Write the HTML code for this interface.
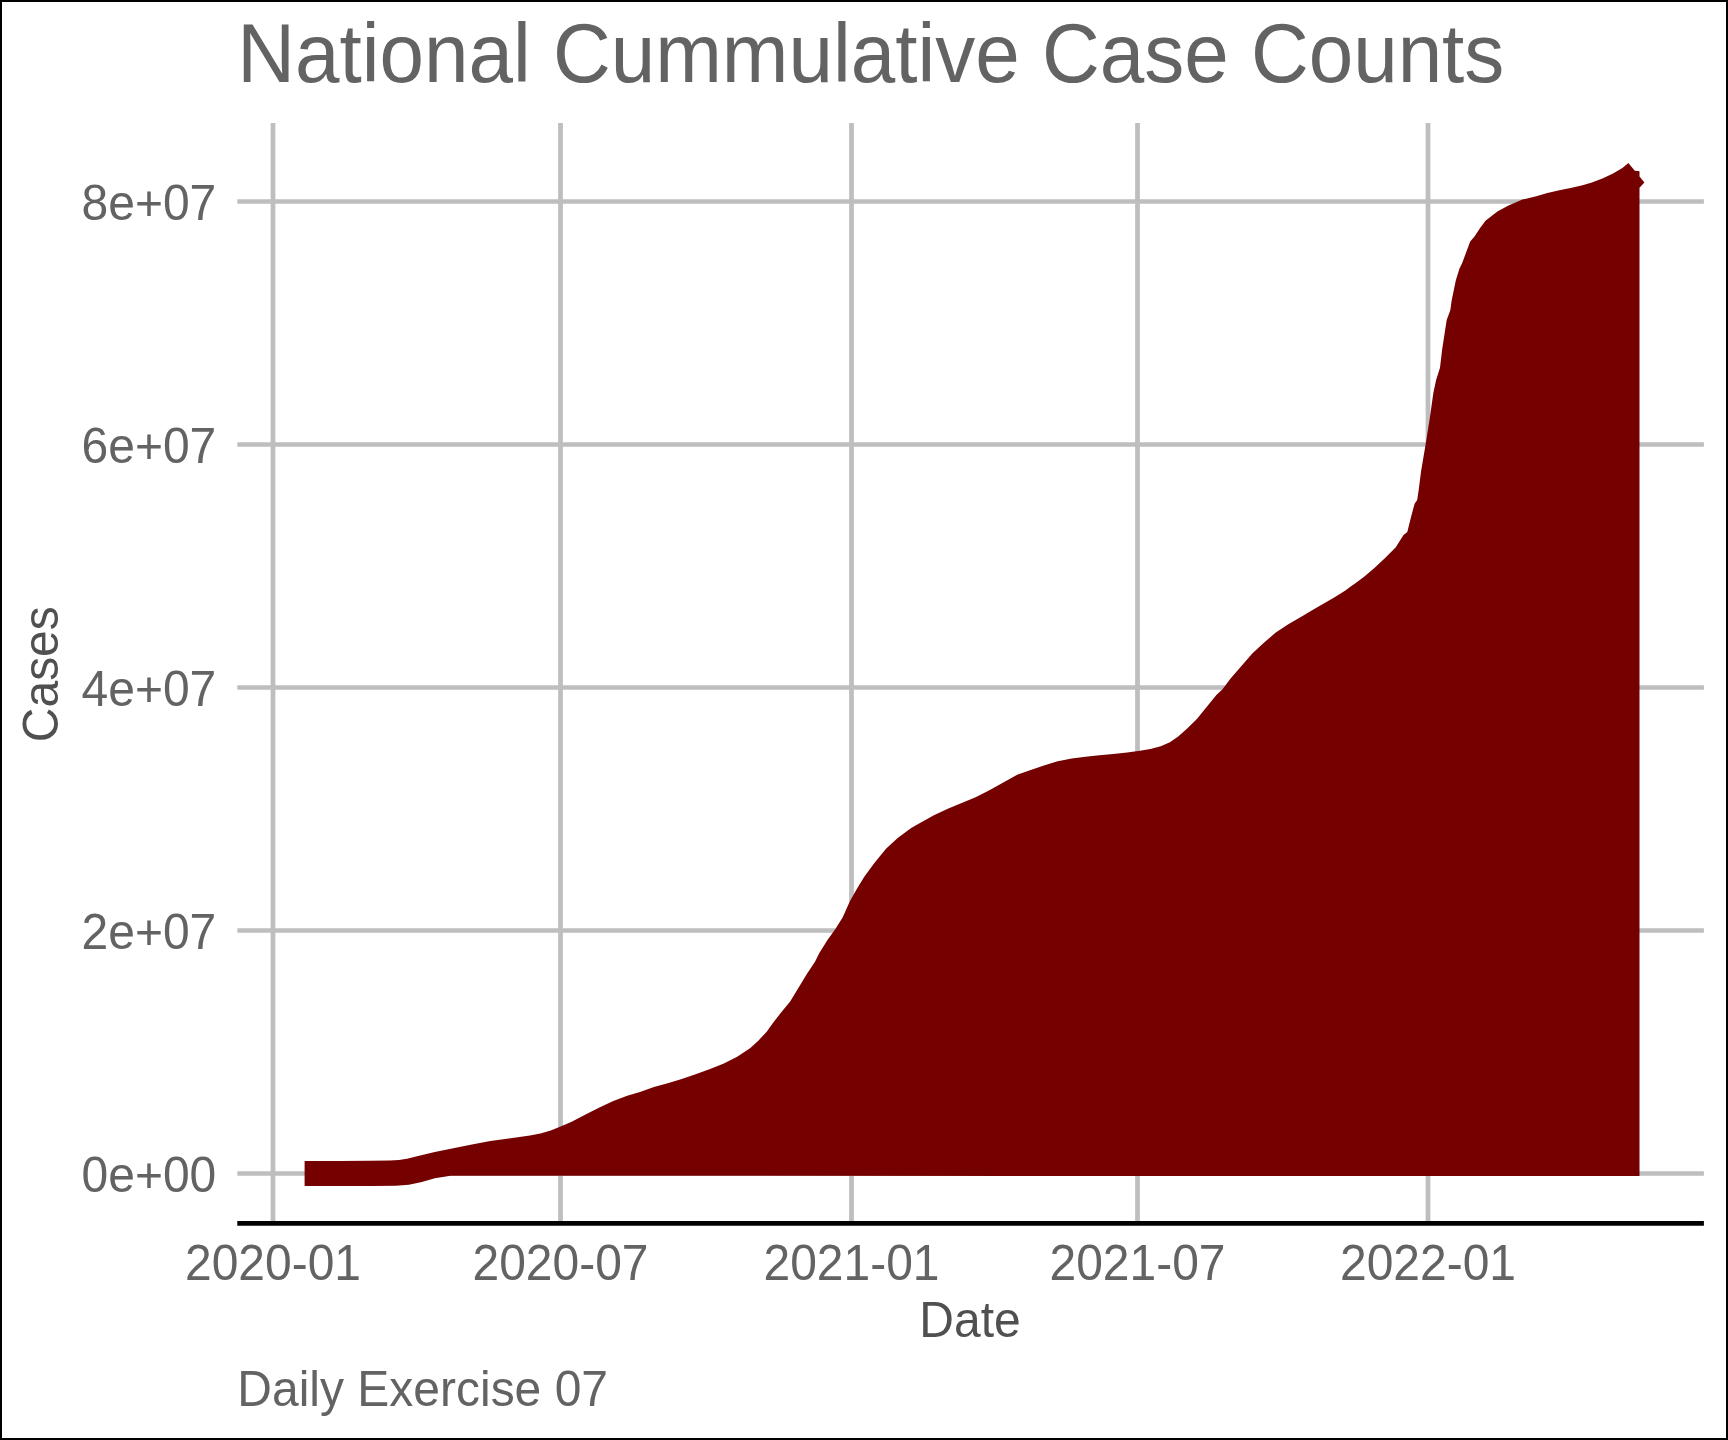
<!DOCTYPE html>
<html><head><meta charset="utf-8"><style>
html,body{margin:0;padding:0;background:#fff;}
body{width:1728px;height:1440px;overflow:hidden;position:relative;}
.frame{position:absolute;left:0;top:0;width:1724px;height:1436px;border:2px solid #000;}
svg{position:absolute;left:0;top:0;will-change:transform;}
</style></head><body>
<svg width="1728" height="1440" viewBox="0 0 1728 1440">
<rect x="0" y="0" width="1728" height="1440" fill="#fff"/>
<line x1="273" y1="123" x2="273" y2="1221" stroke="#bebebe" stroke-width="4.74"/>
<line x1="560.5" y1="123" x2="560.5" y2="1221" stroke="#bebebe" stroke-width="4.74"/>
<line x1="851.5" y1="123" x2="851.5" y2="1221" stroke="#bebebe" stroke-width="4.74"/>
<line x1="1137.5" y1="123" x2="1137.5" y2="1221" stroke="#bebebe" stroke-width="4.74"/>
<line x1="1428" y1="123" x2="1428" y2="1221" stroke="#bebebe" stroke-width="4.74"/>
<line x1="237.3" y1="201.5" x2="1703.9" y2="201.5" stroke="#bebebe" stroke-width="4.74"/>
<line x1="237.3" y1="444.5" x2="1703.9" y2="444.5" stroke="#bebebe" stroke-width="4.74"/>
<line x1="237.3" y1="687.5" x2="1703.9" y2="687.5" stroke="#bebebe" stroke-width="4.74"/>
<line x1="237.3" y1="930.5" x2="1703.9" y2="930.5" stroke="#bebebe" stroke-width="4.74"/>
<line x1="237.3" y1="1173.5" x2="1703.9" y2="1173.5" stroke="#bebebe" stroke-width="4.74"/>
<path d="M304.6,1161.0 L340.0,1161.0 L370.0,1160.7 L390.0,1160.6 L399.0,1160.0 L407.0,1158.7 L418.1,1156.1 L434.8,1151.9 L453.3,1148.2 L471.9,1144.5 L490.4,1141.1 L508.9,1138.5 L530.0,1135.6 L540.4,1133.5 L550.8,1130.4 L560.6,1126.6 L571.7,1121.7 L585.6,1114.4 L599.4,1107.5 L613.3,1100.9 L627.2,1095.7 L640.0,1091.9 L653.9,1087.0 L667.8,1083.2 L681.7,1079.0 L695.6,1074.2 L709.4,1069.3 L723.3,1063.8 L737.2,1056.8 L750.0,1048.3 L758.3,1040.8 L766.7,1031.7 L773.3,1022.5 L781.7,1011.7 L790.0,1001.7 L796.7,990.8 L806.7,974.2 L815.0,961.7 L819.2,953.3 L827.5,940.0 L835.4,929.1 L842.6,917.4 L849.9,901.2 L857.1,888.5 L864.3,876.8 L874.2,863.2 L886.0,848.8 L897.7,838.0 L911.2,828.0 L920.0,822.9 L933.9,815.3 L947.8,808.7 L961.7,803.1 L975.6,797.2 L989.4,790.3 L1003.3,782.6 L1017.2,774.7 L1030.0,770.3 L1043.9,765.4 L1057.8,761.2 L1071.7,758.5 L1085.6,756.7 L1099.4,755.3 L1113.3,754.0 L1127.2,752.6 L1140.0,750.8 L1150.4,749.1 L1160.8,746.3 L1169.9,742.2 L1178.2,736.6 L1187.2,728.6 L1196.9,718.9 L1206.0,707.8 L1216.4,694.9 L1222.5,689.2 L1230.8,678.3 L1240.8,666.7 L1252.5,653.3 L1264.2,642.5 L1275.8,632.5 L1288.3,624.2 L1300.0,617.5 L1311.7,610.4 L1322.5,604.2 L1334.2,597.5 L1345.0,590.8 L1350.0,587.0 L1356.1,582.8 L1363.8,577.0 L1374.4,567.9 L1385.1,557.9 L1395.8,547.2 L1403.5,535.0 L1407.3,532.0 L1411.1,516.7 L1414.6,503.7 L1417.2,499.9 L1418.8,489.2 L1421.1,471.1 L1425.6,444.4 L1430.0,416.7 L1433.3,393.3 L1436.1,380.0 L1440.0,367.8 L1442.2,348.9 L1443.6,340.0 L1446.7,320.1 L1450.3,310.2 L1451.7,300.2 L1455.8,280.4 L1459.4,268.7 L1462.1,263.2 L1464.8,256.0 L1470.2,241.6 L1474.7,236.2 L1480.1,228.1 L1485.5,220.8 L1497.4,211.6 L1508.5,205.6 L1522.4,199.5 L1536.3,196.3 L1547.4,193.1 L1559.4,190.3 L1570.6,188.0 L1582.6,185.2 L1591.9,182.4 L1603.0,178.2 L1613.1,173.6 L1622.4,168.1 L1628.4,163.1 L1634.8,170.7 L1639.5,171.3 L1639.5,176.5 L1644.4,182.4 L1639.5,187.7 L1639.5,1176.0 L450.6,1175.8 L434.8,1178.3 L421.9,1182.0 L408.9,1184.8 L395.9,1185.7 L370.0,1185.9 L304.6,1186.0Z" fill="#750000"/>
<line x1="237.3" y1="1223.4" x2="1703.9" y2="1223.4" stroke="#000" stroke-width="4.74"/>
<text transform="translate(237.3,81.8) scale(1.0,1.0436)" x="0" y="0" font-family="Liberation Sans, sans-serif" font-size="80" fill="#636363" text-anchor="start">National Cummulative Case Counts</text>
<text transform="translate(216.3,220.0) scale(1.0,1.0436)" x="0" y="0" font-family="Liberation Sans, sans-serif" font-size="48" fill="#636363" text-anchor="end">8e+07</text>
<text transform="translate(216.3,463.0) scale(1.0,1.0436)" x="0" y="0" font-family="Liberation Sans, sans-serif" font-size="48" fill="#636363" text-anchor="end">6e+07</text>
<text transform="translate(216.3,706.0) scale(1.0,1.0436)" x="0" y="0" font-family="Liberation Sans, sans-serif" font-size="48" fill="#636363" text-anchor="end">4e+07</text>
<text transform="translate(216.3,949.0) scale(1.0,1.0436)" x="0" y="0" font-family="Liberation Sans, sans-serif" font-size="48" fill="#636363" text-anchor="end">2e+07</text>
<text transform="translate(216.3,1192.0) scale(1.0,1.0436)" x="0" y="0" font-family="Liberation Sans, sans-serif" font-size="48" fill="#636363" text-anchor="end">0e+00</text>
<text transform="translate(273,1280.1) scale(1.0,1.0436)" x="0" y="0" font-family="Liberation Sans, sans-serif" font-size="48" fill="#636363" text-anchor="middle">2020-01</text>
<text transform="translate(560.5,1280.1) scale(1.0,1.0436)" x="0" y="0" font-family="Liberation Sans, sans-serif" font-size="48" fill="#636363" text-anchor="middle">2020-07</text>
<text transform="translate(851.5,1280.1) scale(1.0,1.0436)" x="0" y="0" font-family="Liberation Sans, sans-serif" font-size="48" fill="#636363" text-anchor="middle">2021-01</text>
<text transform="translate(1137.5,1280.1) scale(1.0,1.0436)" x="0" y="0" font-family="Liberation Sans, sans-serif" font-size="48" fill="#636363" text-anchor="middle">2021-07</text>
<text transform="translate(1428,1280.1) scale(1.0,1.0436)" x="0" y="0" font-family="Liberation Sans, sans-serif" font-size="48" fill="#636363" text-anchor="middle">2022-01</text>
<text transform="translate(970.0,1336.8) scale(1.0,1.0436)" x="0" y="0" font-family="Liberation Sans, sans-serif" font-size="48" fill="#505050" text-anchor="middle">Date</text>
<text transform="translate(58.3,674.2) rotate(-90) scale(1.0,1.0436)" x="0" y="0" font-family="Liberation Sans, sans-serif" font-size="48" fill="#505050" text-anchor="middle">Cases</text>
<text transform="translate(237.3,1405.8) scale(1.0,1.0436)" x="0" y="0" font-family="Liberation Sans, sans-serif" font-size="48" fill="#636363" text-anchor="start">Daily Exercise 07</text>
</svg>
<div class="frame"></div>
</body></html>
